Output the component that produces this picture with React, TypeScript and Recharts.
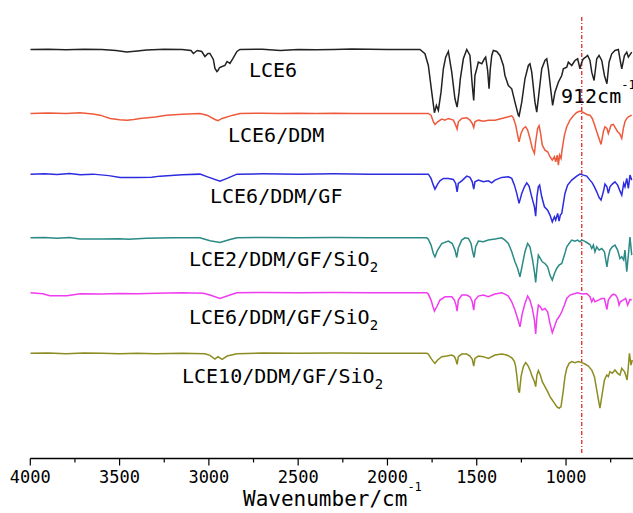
import React from 'react';
import { LineChart, Line, XAxis, YAxis, ReferenceLine } from 'recharts';

const FONT = "'DejaVu Sans Mono', monospace";

const seriesNames = ['LCE6', 'LCE6/DDM', 'LCE6/DDM/GF', 'LCE2/DDM/GF/SiO2', 'LCE6/DDM/GF/SiO2', 'LCE10/DDM/GF/SiO2'];
const seriesColors = ['#222222', '#ee5a3c', '#2b2be0', '#2a8a86', '#f03cf0', '#8c8c22'];
const seriesOffsets = [409.2, 345.2, 284.5, 220.8, 165.8, 105.2];

const xTicks = [4000, 3750, 3500, 3250, 3000, 2750, 2500, 2250, 2000, 1750, 1500, 1250, 1000, 750];
const markerWavenumber = 912;

// [wavenumber (cm-1), relative transmittance]
const lce6: [number, number][] = [
  [4000, 0], [3900, 0.3], [3800, -0.3], [3700, 0.2], [3600, 0], [3520, -1], [3460, -2.5], [3400, -1.5], [3350, -0.5],
  [3250, 0.2], [3150, 0], [3100, -1], [3087, -4], [3065, -1], [3040, -2], [3022, -7], [3005, -4], [2994, -4],
  [2975, -10], [2966, -19], [2955, -22], [2949, -21], [2940, -18], [2926, -17], [2910, -16], [2898, -12], [2882, -14],
  [2865, -9], [2843, -2], [2826, 0], [2700, 0.3], [2600, -1], [2500, 0], [2400, -0.3], [2300, 0], [2200, 0.5],
  [2100, 0.2], [2000, 0], [1900, 0], [1818, 0], [1790, -4.3], [1771, -16], [1752, -42.7], [1737, -63.3], [1726, -56],
  [1715, -61], [1700, -42.7], [1687, -19.3], [1674, -7.7], [1659, -2], [1640, -22.7], [1622, -49.3], [1610, -57.7],
  [1599, -42.7], [1592, -29.3], [1575, -9.3], [1556, 0], [1538, -6], [1525, -36], [1517, -51], [1510, -26],
  [1500, -19.3], [1491, -12.7], [1472, -14.3], [1457, -9.3], [1450, -7.7], [1439, -21], [1431, -39.3], [1424, -19.3],
  [1416, -6], [1407, -1], [1388, -2], [1370, -6], [1351, -16], [1342, -26], [1323, -36], [1304, -39.3], [1286, -52.7],
  [1267, -66], [1263, -66.7], [1248, -52.7], [1230, -29.3], [1211, -16], [1202, -14.3], [1192, -22.7], [1174, -52.7],
  [1164, -62.7], [1151, -42.7], [1136, -19.3], [1118, -11], [1108, -9.3], [1099, -19.3], [1084, -42.7], [1075, -56],
  [1062, -42.7], [1043, -32.7], [1024, -26], [1015, -19.3], [996, -17.7], [987, -12.7], [968, -16], [950, -11],
  [935, -9.3], [922, -19.3], [912, -12.7], [903, -9.3], [890, -7.7], [879, -6], [866, -11], [856, -22.7], [843, -31],
  [828, -9.3], [815, -6], [800, -11], [785, -26], [771, -34.3], [759, -12.7], [744, -4.3], [726, -1], [707, 0],
  [698, -9.3], [688, -19.3], [673, -6], [660, -2.7], [651, -7.7], [632, -2.7],
];

const lce6Ddm: [number, number][] = [
  [4000, 0], [3900, 0.5], [3800, 0], [3722, 0.7], [3650, -0.5], [3609, -1.7], [3553, -5], [3500, -6.2], [3459, -6.7],
  [3420, -6], [3386, -5], [3300, -3.5], [3237, -1.7], [3150, -0.7], [3050, 0], [3011, -1.7], [2966, -6], [2949, -7.3],
  [2926, -5], [2865, -1.7], [2826, 0], [2700, 0.3], [2600, 0], [2500, 0.3], [2400, 0], [2300, 0.3], [2200, 0],
  [2000, 0], [1771, 0], [1756, -1.7], [1743, -8.3], [1734, -11], [1719, -8.3], [1696, -5.7], [1678, -6.7], [1659, -5],
  [1631, -6.7], [1618, -11.7], [1610, -15.7], [1603, -8.3], [1584, -5], [1556, -4.3], [1538, -6.7], [1525, -10],
  [1517, -14], [1510, -8.3], [1491, -6.7], [1463, -7.7], [1435, -6.7], [1398, -6.7], [1360, -5], [1323, -3.3],
  [1304, -2.3], [1295, -4.3], [1282, -11.7], [1271, -21.7], [1263, -28.3], [1252, -20], [1239, -15], [1226, -13.3],
  [1215, -16.7], [1202, -25], [1189, -35], [1177, -40], [1170, -28.3], [1159, -15], [1151, -12.3], [1144, -18.3],
  [1133, -31.7], [1118, -36.7], [1103, -38.3], [1090, -43.3], [1077, -46.7], [1065, -43.3], [1058, -48.3],
  [1049, -41.7], [1043, -51.7], [1036, -41.7], [1028, -45], [1021, -35], [1009, -21.7], [996, -13.3], [978, -6.7],
  [959, -2.3], [940, 1], [922, 2.3], [903, 1], [884, -1], [866, -1.7], [853, -5], [841, -11], [828, -18.3], [815, -25],
  [804, -31], [791, -18.3], [782, -13.3], [771, -15], [763, -20], [748, -11.7], [735, -11], [722, -15], [711, -18.3],
  [700, -20], [688, -25], [679, -15], [670, -8.3], [660, -5], [651, -3.3], [632, -1.7],
];

const lce6DdmGf: [number, number][] = [
  [4000, 0], [3920, 0.5], [3850, -0.3], [3780, 0.6], [3720, -0.5], [3650, 0], [3560, -1.5], [3497, -3.3], [3400, -3.3],
  [3320, -3], [3273, -2], [3150, -0.5], [3050, 0], [3011, -2.5], [2938, -7], [2898, -4.3], [2843, 0], [2700, 0.3],
  [2500, 0], [2300, 0.3], [2100, 0], [1900, 0], [1771, 0], [1756, -4.3], [1743, -11], [1734, -15], [1719, -10],
  [1706, -6.7], [1687, -4.3], [1659, -4.3], [1631, -5.3], [1618, -9.3], [1610, -17.7], [1603, -9.3], [1584, -6.7],
  [1556, -2], [1538, -3.3], [1525, -7.7], [1517, -15], [1510, -7.7], [1491, -6], [1463, -7.7], [1435, -6.7],
  [1416, -8.7], [1398, -6], [1360, -3.3], [1323, -2.7], [1304, -4.3], [1289, -11], [1276, -19.3], [1263, -29.3],
  [1248, -19.3], [1233, -12.7], [1220, -8.7], [1207, -12], [1192, -22.7], [1177, -32.7], [1170, -42], [1163, -22.7],
  [1155, -12.7], [1148, -11], [1136, -22.7], [1121, -32.7], [1103, -36], [1090, -41], [1077, -47.7], [1065, -42.7],
  [1058, -46], [1047, -39.3], [1039, -47], [1032, -41], [1024, -39.3], [1015, -29.3], [1006, -19.3], [991, -11],
  [968, -6], [940, -2], [922, 0], [903, -1], [884, -2], [866, -6], [853, -8.7], [841, -12.7], [828, -17.7],
  [815, -23.3], [804, -26], [791, -17.7], [782, -10], [771, -12.7], [763, -19.3], [754, -12.7], [741, -10],
  [726, -7.7], [711, -11], [700, -16], [688, -21], [677, -9.3], [670, -12.7], [660, -4.3], [651, -14.3], [642, -1],
  [632, -6],
];

const lce2DdmGfSiO2: [number, number][] = [
  [4000, 0], [3920, 0.3], [3850, -0.5], [3780, 0.3], [3722, -1.3], [3600, -1.3], [3500, -1], [3450, -1.5],
  [3350, -0.5], [3200, 0], [3050, 0], [2994, -3], [2938, -4.7], [2882, -1.7], [2843, 0], [2700, 0.3], [2500, 0],
  [2300, 0.3], [2100, 0], [1900, 0], [1780, 0], [1771, -1.3], [1756, -7.3], [1743, -15.7], [1734, -19], [1719, -12.3],
  [1696, -5.7], [1659, -3.3], [1637, -5.7], [1622, -12.3], [1612, -19.7], [1603, -10], [1584, -2.3], [1566, 0],
  [1547, -0.7], [1532, -5.7], [1523, -14], [1515, -19.7], [1506, -9], [1491, -3.3], [1463, -4], [1435, -2.3],
  [1398, -1.3], [1360, 0], [1342, -2.3], [1323, -5.7], [1304, -14], [1286, -24], [1271, -30.7], [1258, -39],
  [1245, -27.3], [1230, -14], [1215, -5.7], [1202, -9], [1189, -20.7], [1177, -34], [1170, -44.7], [1163, -30.7],
  [1155, -17.3], [1144, -20.7], [1133, -24], [1118, -25.7], [1103, -29], [1090, -37.3], [1077, -42.3], [1065, -35.7],
  [1052, -30.7], [1039, -27.3], [1024, -25.7], [1009, -17.3], [996, -9], [983, -5.7], [968, -2.3], [950, -3.3],
  [935, -2.3], [922, -4], [912, -2.3], [897, -3.3], [884, -4.7], [866, -6.7], [856, -10.7], [847, -7.3], [838, -14],
  [828, -9], [815, -12.3], [800, -10.7], [785, -14], [771, -29], [763, -19], [754, -12.3], [741, -9], [726, -7.3],
  [711, -12.3], [698, -20.7], [688, -19], [677, -22.3], [670, -12.3], [660, -34], [651, -17.3], [642, 0.7], [632, -17.3],
];

const lce6DdmGfSiO2: [number, number][] = [
  [4000, 0], [3930, -1], [3890, -3], [3795, -3], [3720, -1], [3600, -1.3], [3500, -0.7], [3400, -1], [3300, -0.5],
  [3150, 0], [3030, -0.5], [2994, -2.3], [2938, -5.7], [2882, -2.3], [2843, 0], [2700, 0.3], [2500, 0], [2300, 0.3],
  [2100, 0], [1900, 0], [1780, 0], [1771, -1.3], [1756, -7.3], [1745, -14], [1737, -18.3], [1724, -14], [1706, -7.3],
  [1678, -4], [1640, -4], [1625, -7.3], [1616, -12.3], [1610, -18.3], [1603, -7.3], [1584, -2.3], [1556, -2.3],
  [1538, -4], [1525, -9], [1517, -17.3], [1510, -7.3], [1491, -3.3], [1463, -2.3], [1435, -4], [1398, -1.3], [1360, 0],
  [1342, -1.3], [1323, -3.3], [1304, -9], [1286, -17.3], [1271, -25.7], [1258, -34], [1245, -20.7], [1230, -10.7],
  [1215, -3.3], [1202, -7.3], [1189, -15.7], [1177, -27.3], [1170, -41.3], [1163, -24], [1155, -12.3], [1144, -14],
  [1133, -17.3], [1118, -15.7], [1103, -19], [1090, -30.7], [1077, -40], [1065, -34], [1052, -27.3], [1039, -24],
  [1024, -19], [1009, -12.3], [996, -5.7], [978, -2.3], [959, -1.3], [935, 0], [922, -0.7], [903, -1.3], [884, -0.7],
  [866, -4], [856, -9], [847, -5.7], [838, -9], [819, -7.3], [800, -5.7], [785, -5.7], [771, -16.7], [763, -7.3],
  [748, -3.3], [735, -1.3], [722, -2.3], [711, -5.7], [703, -12.3], [696, -9], [681, -7.3], [666, -5.7], [655, -12.3],
  [642, -6.7], [632, -7.3],
];

const lce10DdmGfSiO2: [number, number][] = [
  [4000, 0], [3900, 0.3], [3800, -0.3], [3700, 0.3], [3600, 0], [3500, -0.5], [3400, 0], [3300, -0.3], [3150, 0],
  [3022, -0.5], [2994, -2], [2966, -5.7], [2949, -3.3], [2926, -6], [2898, -2.7], [2843, -0.3], [2700, 0.3], [2500, 0],
  [2300, 0.3], [2100, 0], [1900, 0], [1780, 0], [1771, -0.7], [1756, -5], [1743, -8.3], [1734, -10], [1719, -6.7],
  [1696, -3.3], [1668, -2.7], [1640, -1.7], [1625, -3.3], [1618, -6], [1610, -11], [1603, -3.3], [1584, -0.7],
  [1556, -0.7], [1538, -2.7], [1525, -6], [1517, -12.7], [1510, -5], [1491, -2.7], [1463, -3.3], [1435, -5],
  [1398, -1.7], [1360, -0.7], [1332, -1.7], [1314, -3.3], [1301, -5], [1289, -8.3], [1282, -13.3], [1275, -23.3],
  [1267, -36.7], [1261, -39.3], [1252, -23.3], [1239, -13.3], [1226, -9.3], [1215, -11.7], [1202, -16.7],
  [1189, -23.3], [1177, -28.3], [1170, -33.3], [1163, -21.7], [1155, -17.3], [1144, -21.7], [1133, -28.3],
  [1118, -33.3], [1103, -38.3], [1090, -43.3], [1077, -46.7], [1071, -48.3], [1052, -53.3], [1039, -55], [1028, -53.3],
  [1015, -36.7], [1006, -23.3], [996, -15], [983, -10], [968, -8.3], [950, -9.3], [931, -8.3], [912, -9.3],
  [894, -10.7], [875, -12.7], [856, -16.7], [841, -23.3], [828, -36.7], [815, -50], [810, -54.7], [797, -40],
  [785, -26.7], [772, -21.7], [763, -23.3], [754, -18.3], [741, -20], [726, -16.7], [711, -20], [698, -21.7],
  [688, -15], [673, -18.3], [666, -21.7], [658, -26.7], [651, -13.3], [645, 0], [636, -11.7], [629, -6.7],
];

const spectra = [lce6, lce6Ddm, lce6DdmGf, lce2DdmGfSiO2, lce6DdmGfSiO2, lce10DdmGfSiO2];

const AxisTick = (props: any) => {
  const { x, y, payload } = props;
  const v = payload.value as number;
  const major = v % 500 === 0;
  return (
    <g>
      <line x1={x} y1={y} x2={x} y2={y + (major ? 7 : 4)} stroke="#000" strokeWidth={1.2} />
      {major && (
        <text x={x} y={y + 24} textAnchor="middle" fontSize={17} fontFamily={FONT} fill="#000">
          {v}
        </text>
      )}
    </g>
  );
};

const labelPos = [
  { x: 249, y: 77 },
  { x: 228, y: 142 },
  { x: 210, y: 203 },
  { x: 189, y: 266 },
  { x: 189, y: 324 },
  { x: 182, y: 383 },
];

const SeriesLabel = ({ name, x, y }: { name: string; x: number; y: number }) => {
  const sub = name.endsWith('SiO2');
  const main = sub ? name.slice(0, -1) : name;
  return (
    <text x={x} y={y} fontSize={20} fontFamily={FONT} fill="#000">
      {main}
      {sub && (
        <tspan fontSize={14} dy={6}>
          2
        </tspan>
      )}
    </text>
  );
};

export default function App() {
  return (
    <div style={{ position: 'absolute', left: 0, top: 0, width: 633, height: 513, overflow: 'hidden', background: '#fff' }}>
      <LineChart width={633} height={513} margin={{ top: 12.7, right: 0, bottom: 0, left: 30.3 }}>
        <XAxis
          xAxisId="bottom"
          type="number"
          dataKey="w"
          domain={[625, 4000]}
          reversed
          allowDataOverflow
          ticks={xTicks}
          interval={0}
          tick={<AxisTick />}
          tickLine={false}
          tickSize={0}
          tickMargin={0}
          height={54.5}
          axisLine={{ stroke: '#000', strokeWidth: 1.3 }}
        />
        <XAxis
          xAxisId="top"
          orientation="top"
          type="number"
          dataKey="w"
          domain={[625, 4000]}
          reversed
          allowDataOverflow
          tick={false}
          tickLine={false}
          height={0}
          axisLine={{ stroke: '#000', strokeWidth: 1.3 }}
        />
        <YAxis
          type="number"
          domain={[0, 446]}
          allowDataOverflow
          width={0}
          tick={false}
          tickLine={false}
          axisLine={{ stroke: '#000', strokeWidth: 1.3 }}
        />
        <ReferenceLine
          xAxisId="bottom"
          segment={[{ x: markerWavenumber, y: 5.5 }, { x: markerWavenumber, y: 443.5 }]}
          stroke="#e02828"
          strokeWidth={1.3}
          strokeDasharray="4 2 1 2"
        />
        {spectra.map((s, i) => (
          <Line
            key={seriesNames[i]}
            xAxisId="bottom"
            data={s.map(([w, t]) => ({ w, y: t + seriesOffsets[i] }))}
            dataKey="y"
            stroke={seriesColors[i]}
            strokeWidth={1.5}
            dot={false}
            activeDot={false}
            isAnimationActive={false}
            type="linear"
          />
        ))}
      </LineChart>
      <svg width={633} height={513} style={{ position: 'absolute', left: 0, top: 0, pointerEvents: 'none' }}>
        {seriesNames.map((n, i) => (
          <SeriesLabel key={n} name={n} x={labelPos[i].x} y={labelPos[i].y} />
        ))}
        <text x={561} y={103} fontSize={20} fontFamily={FONT} fill="#000">
          912cm
          <tspan fontSize={12} dy={-14}>-1</tspan>
        </text>
        <text x={243} y={506} fontSize={21} fontFamily={FONT} fill="#000">
          Wavenumber/cm
          <tspan fontSize={12} dy={-15}>-1</tspan>
        </text>
      </svg>
    </div>
  );
}
